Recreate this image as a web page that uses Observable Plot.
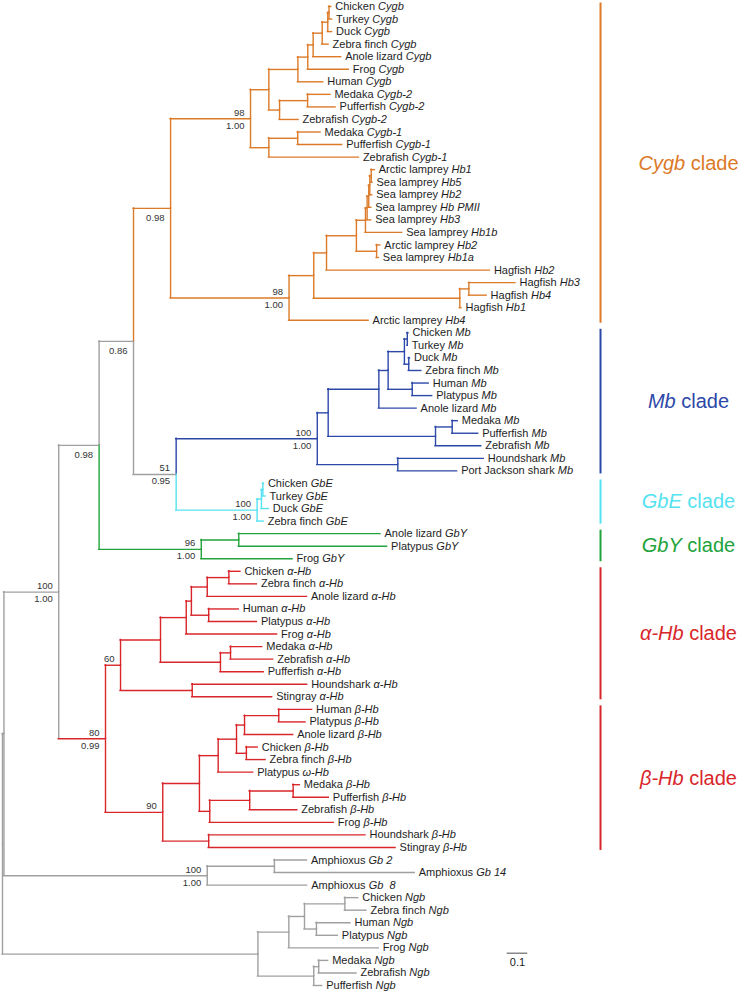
<!DOCTYPE html>
<html><head><meta charset="utf-8">
<script src="https://cdn.jsdelivr.net/npm/d3@7"></script>
<script src="https://cdn.jsdelivr.net/npm/@observablehq/plot@0.6"></script>
<style>body{margin:0;background:#fff} svg text{white-space:pre}</style>
</head><body><div id="chart"></div>
<script>
// ---- DATA: [node id or "Species|gene" leaf label, parent id, distance from root (substitutions/site)] ----
const backboneNodes = [
  ["root", null, 0],
  ["nA", "root", 0.007],
  ["n100", "nA", 0.273],
  ["n098", "n100", 0.469],
  ["n086", "n098", 0.636],
  ["n51", "n086", 0.843]
];
const cygbNodes = [
  ["cyR", "n086", 0.816],
  ["cy98", "cyR", 1.204],
  ["cyU", "cy98", 1.293],
  ["cyT", "cyU", 1.434],
  ["cyF", "cyT", 1.482],
  ["cyA", "cyF", 1.508],
  ["cyZ", "cyA", 1.552],
  ["cyD", "cyZ", 1.579],
  ["cyCT", "cyD", 1.585],
  ["Chicken|Cygb", "cyCT", 1.596],
  ["Turkey|Cygb", "cyCT", 1.600],
  ["Duck|Cygb", "cyD", 1.600],
  ["Zebra finch|Cygb", "cyZ", 1.583],
  ["Anole lizard|Cygb", "cyA", 1.644],
  ["Frog|Cygb", "cyF", 1.681],
  ["Human|Cygb", "cyT", 1.557],
  ["cy2", "cyU", 1.345],
  ["cy2MP", "cy2", 1.481],
  ["Medaka|Cygb-2", "cy2MP", 1.592],
  ["Pufferfish|Cygb-2", "cy2MP", 1.617],
  ["Zebrafish|Cygb-2", "cy2", 1.437],
  ["cy1", "cy98", 1.293],
  ["cy1MP", "cy1", 1.433],
  ["Medaka|Cygb-1", "cy1MP", 1.544],
  ["Pufferfish|Cygb-1", "cy1MP", 1.649],
  ["Zebrafish|Cygb-1", "cy1", 1.730],
  ["lhR", "cyR", 1.391],
  ["lh2", "lhR", 1.511],
  ["lh3", "lh2", 1.573],
  ["lh4", "lh3", 1.718],
  ["l5", "lh4", 1.762],
  ["l6", "l5", 1.770],
  ["l7", "l6", 1.778],
  ["l8", "l7", 1.783],
  ["l9", "l8", 1.790],
  ["Arctic lamprey|Hb1", "l9", 1.807],
  ["Sea lamprey|Hb5", "l9", 1.796],
  ["Sea lamprey|Hb2", "l8", 1.795],
  ["Sea lamprey|Hb PMII", "l7", 1.790],
  ["Sea lamprey|Hb3", "l6", 1.790],
  ["Sea lamprey|Hb1b", "l5", 1.940],
  ["la", "lh4", 1.816],
  ["Arctic lamprey|Hb2", "la", 1.834],
  ["Sea lamprey|Hb1a", "la", 1.827],
  ["Hagfish|Hb2", "lh3", 2.366],
  ["hg", "lh2", 2.220],
  ["hg34", "hg", 2.264],
  ["Hagfish|Hb3", "hg34", 2.490],
  ["Hagfish|Hb4", "hg34", 2.350],
  ["Hagfish|Hb1", "hg", 2.228],
  ["Arctic lamprey|Hb4", "lhR", 1.777]
];
const mbNodes = [
  ["mbR", "n51", 1.528],
  ["mbA", "mbR", 1.581],
  ["mbB", "mbA", 1.827],
  ["mbC", "mbB", 1.872],
  ["mbBd", "mbC", 1.951],
  ["mbCT", "mbBd", 1.965],
  ["Chicken|Mb", "mbCT", 1.971],
  ["Turkey|Mb", "mbCT", 1.967],
  ["mbDZ", "mbBd", 1.972],
  ["Duck|Mb", "mbDZ", 1.978],
  ["Zebra finch|Mb", "mbDZ", 2.033],
  ["mbHP", "mbC", 1.989],
  ["Human|Mb", "mbHP", 2.069],
  ["Platypus|Mb", "mbHP", 2.086],
  ["Anole lizard|Mb", "mbB", 2.010],
  ["mbF", "mbA", 2.102],
  ["mbMP", "mbF", 2.183],
  ["Medaka|Mb", "mbMP", 2.210],
  ["Pufferfish|Mb", "mbMP", 2.309],
  ["Zebrafish|Mb", "mbF", 2.324],
  ["mbS", "mbR", 1.919],
  ["Houndshark|Mb", "mbS", 2.336],
  ["Port Jackson shark|Mb", "mbS", 2.207]
];
const gbeNodes = [
  ["geR", "n51", 1.236],
  ["geD", "geR", 1.257],
  ["geCT", "geD", 1.264],
  ["Chicken|GbE", "geCT", 1.269],
  ["Turkey|GbE", "geCT", 1.277],
  ["Duck|GbE", "geD", 1.293],
  ["Zebra finch|GbE", "geR", 1.268]
];
const gbyNodes = [
  ["gyR", "n098", 0.965],
  ["gyAP", "gyR", 1.147],
  ["Anole lizard|GbY", "gyAP", 1.835],
  ["Platypus|GbY", "gyAP", 1.867],
  ["Frog|GbY", "gyR", 1.408]
];
const hbNodes = [
  ["hb80", "n100", 0.500],
  ["aR", "hb80", 0.573],
  ["aTF", "aR", 0.767],
  ["aT", "aTF", 0.892],
  ["aAm", "aT", 0.917],
  ["aBA", "aAm", 0.994],
  ["aCZ", "aBA", 1.099],
  ["Chicken|α-Hb", "aCZ", 1.155],
  ["Zebra finch|α-Hb", "aCZ", 1.235],
  ["Anole lizard|α-Hb", "aBA", 1.478],
  ["aHP", "aAm", 1.001],
  ["Human|α-Hb", "aHP", 1.147],
  ["Platypus|α-Hb", "aHP", 1.235],
  ["Frog|α-Hb", "aT", 1.333],
  ["aF", "aTF", 1.058],
  ["aMZ", "aF", 1.107],
  ["Medaka|α-Hb", "aMZ", 1.261],
  ["Zebrafish|α-Hb", "aMZ", 1.314],
  ["Pufferfish|α-Hb", "aF", 1.268],
  ["aS", "aR", 0.921],
  ["Houndshark|α-Hb", "aS", 1.479],
  ["Stingray|α-Hb", "aS", 1.309],
  ["bR", "hb80", 0.778],
  ["bTF", "bR", 0.956],
  ["bT", "bTF", 1.047],
  ["bAm", "bT", 1.136],
  ["bHPA", "bAm", 1.175],
  ["bHP", "bHPA", 1.341],
  ["Human|β-Hb", "bHP", 1.503],
  ["Platypus|β-Hb", "bHP", 1.471],
  ["Anole lizard|β-Hb", "bHPA", 1.411],
  ["bCZ", "bAm", 1.184],
  ["Chicken|β-Hb", "bCZ", 1.239],
  ["Zebra finch|β-Hb", "bCZ", 1.277],
  ["Platypus|ω-Hb", "bT", 1.217],
  ["bF", "bTF", 1.006],
  ["bFA", "bF", 1.200],
  ["bMP", "bFA", 1.411],
  ["Medaka|β-Hb", "bMP", 1.443],
  ["Pufferfish|β-Hb", "bMP", 1.584],
  ["Zebrafish|β-Hb", "bFA", 1.431],
  ["Frog|β-Hb", "bF", 1.608],
  ["bS", "bR", 1.001],
  ["Houndshark|β-Hb", "bS", 1.762],
  ["Stingray|β-Hb", "bS", 1.908]
];
const amphNodes = [
  ["amR", "nA", 0.994],
  ["am214", "amR", 1.320],
  ["Amphioxus|Gb 2", "am214", 1.478],
  ["Amphioxus|Gb 14", "am214", 2.001],
  ["Amphioxus|Gb  8", "amR", 1.479]
];
const ngbNodes = [
  ["ngR", "root", 1.240],
  ["ngT", "ngR", 1.390],
  ["ngAm", "ngT", 1.466],
  ["ngCZ", "ngAm", 1.662],
  ["Chicken|Ngb", "ngCZ", 1.727],
  ["Zebra finch|Ngb", "ngCZ", 1.767],
  ["ngHP", "ngAm", 1.524],
  ["Human|Ngb", "ngHP", 1.689],
  ["Platypus|Ngb", "ngHP", 1.628],
  ["Frog|Ngb", "ngT", 1.827],
  ["ngF", "ngR", 1.511],
  ["ngMZ", "ngF", 1.535],
  ["Medaka|Ngb", "ngMZ", 1.581],
  ["Zebrafish|Ngb", "ngMZ", 1.718],
  ["Pufferfish|Ngb", "ngF", 1.552]
];
// support values: [node, bootstrap, posterior]
const supportNodes = ["cy98","lhR","cyR","n086","n098","n51","geR","mbR","gyR","n100","hb80","aR","bR","amR"];
const bootstrap   = ["98","98","","","","51","100","100","96","100","80","60","90","100"];
const posterior   = ["1.00","1.00","0.98","0.86","0.98","0.95","1.00","1.00","1.00","1.00","0.99","","","1.00"];
// clades
const cladeNames = ["Cygb","Mb","GbE","GbY","α-Hb","β-Hb"];
const cladeFirst = ["Chicken|Cygb","Chicken|Mb","Chicken|GbE","Anole lizard|GbY","Chicken|α-Hb","Human|β-Hb"];
const cladeLast  = ["Arctic lamprey|Hb4","Port Jackson shark|Mb","Zebra finch|GbE","Frog|GbY","Stingray|α-Hb","Stingray|β-Hb"];
const cladeGroup = ["cygb","mb","gbe","gby","hb","hb"];
const scaleBarLength = [0.1];
const grayConnectors = ["hb80"];

// ---- STYLE ----
const palette = {backbone:"#a0a0a0", cygb:"#dc7a28", mb:"#2c48a8", gbe:"#55e2f0", gby:"#22a33c", hb:"#d8262b", amph:"#a0a0a0", ngb:"#a0a0a0"};
const W = 740, H = 992, PX_PER_UNIT = 206, X0 = 2;
const CLADE_BAR_X = 2.903, CLADE_LABEL_X = 3.330, SCALE_X = 2.45, SCALE_Y = 75.43;

// ---- BUILD TREE ----
const groupArrays = [["backbone",backboneNodes],["cygb",cygbNodes],["mb",mbNodes],["gbe",gbeNodes],["gby",gbyNodes],["hb",hbNodes],["amph",amphNodes],["ngb",ngbNodes]];
const nodes = [], byId = new Map();
for (const [g, arr] of groupArrays) for (const [id, parent, depth] of arr) {
  const n = {id, parent, depth, group: g, children: []};
  nodes.push(n); byId.set(id, n);
}
for (const n of nodes) if (n.parent) byId.get(n.parent).children.push(n);
let li = 0;
for (const n of nodes) if (n.children.length === 0) n.y = li++;
function getY(n) {
  if (n.y !== undefined) return n.y;
  const ys = n.children.map(getY);
  return n.y = (Math.min(...ys) + Math.max(...ys)) / 2;
}
nodes.forEach(getY);
const edges = nodes.filter(n => n.parent).map(n => {
  const p = byId.get(n.parent);
  return {x1: p.depth, x2: n.depth, y: n.y, py: p.y, color: palette[n.group],
          vcolor: grayConnectors.includes(n.id) ? palette.backbone : palette[n.group]};
});
const leaves = nodes.filter(n => n.children.length === 0);
const support = supportNodes.map((id, i) => ({x: byId.get(id).depth, y: byId.get(id).y, top: bootstrap[i], bottom: posterior[i]}));
const clades = cladeNames.map((c, i) => {
  const a = byId.get(cladeFirst[i]).y, b = byId.get(cladeLast[i]).y;
  return {label: c + "|clade", y1: a - 0.28, y2: b + 0.24, ym: (a - 0.28 + b + 0.24) / 2, color: palette[cladeGroup[i]]};
});
const nLeaves = leaves.length;

const plot = Plot.plot({
  width: W, height: H,
  marginTop: 0, marginBottom: 0, marginLeft: 0, marginRight: 0,
  x: {domain: [0, (W - X0) / PX_PER_UNIT], range: [X0, W], axis: null},
  y: {domain: [0, nLeaves - 1], range: [6, 985], axis: null},
  color: {type: "identity"},
  style: {fontFamily: "'Liberation Sans', Arial, Helvetica, sans-serif", background: "#fff"},
  marks: [
    Plot.ruleX(edges, {x: "x1", y1: "py", y2: "y", stroke: "vcolor", strokeWidth: 1.4, strokeLinecap: "square"}),
    Plot.ruleY(edges, {y: "y", x1: "x1", x2: "x2", stroke: "color", strokeWidth: 1.4, strokeLinecap: "square"}),
    Plot.text(leaves, {x: "depth", y: "y", text: "id", dx: 4, textAnchor: "start", fontSize: 11, fill: "#1e1e1e"}),
    Plot.text(support.filter(d => d.top), {x: "x", y: "y", text: "top", dx: -6, dy: -6, textAnchor: "end", fontSize: 9.5, fill: "#333"}),
    Plot.text(support.filter(d => d.bottom && d.top), {x: "x", y: "y", text: "bottom", dx: -6, dy: 7, textAnchor: "end", fontSize: 9.5, fill: "#333"}),
    Plot.text(support.filter(d => d.bottom && !d.top), {x: "x", y: "y", text: "bottom", dx: -6, dy: 10, textAnchor: "end", fontSize: 9.5, fill: "#333"}),
    Plot.ruleX(clades, {x: () => CLADE_BAR_X, y1: "y1", y2: "y2", stroke: "color", strokeWidth: 2}),
    Plot.text(clades, {x: () => CLADE_LABEL_X, y: "ym", text: "label", fill: "color", fontSize: 20, textAnchor: "middle"}),
    Plot.ruleY(scaleBarLength, {x1: () => SCALE_X, x2: d => SCALE_X + d, y: () => SCALE_Y, stroke: "#888", strokeWidth: 1.5}),
    Plot.text(scaleBarLength, {x: d => SCALE_X + d / 2, y: () => SCALE_Y + 0.75, text: d => String(d), fontSize: 11, fill: "#222"})
  ]
});

// Italicise gene names / clade names while keeping real text
const cladeSet = new Set(cladeNames);
d3.select(plot).selectAll("text").each(function () {
  const t = this.textContent;
  if (!t.includes("|")) return;
  const [a, b] = t.split("|");
  const sel = d3.select(this);
  sel.text(null);
  if (cladeSet.has(a)) {
    sel.append("tspan").attr("font-style", "italic").text(a);
    sel.append("tspan").text(" " + b);
  } else {
    sel.append("tspan").text(a + " ");
    sel.append("tspan").attr("font-style", "italic").text(b);
  }
});
document.getElementById("chart").append(plot);
</script>
</body></html>
